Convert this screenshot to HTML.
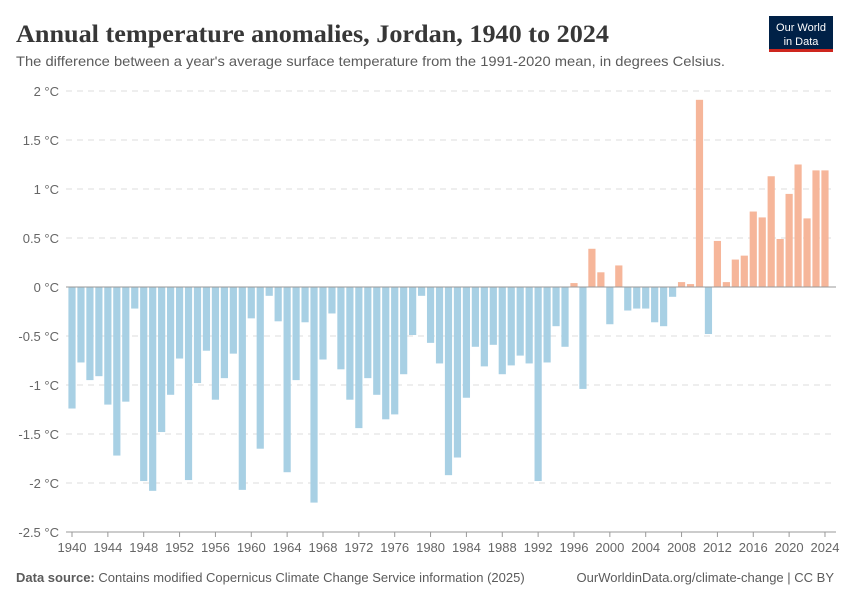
<!DOCTYPE html>
<html><head><meta charset="utf-8"><style>
body{margin:0;background:#fff;font-family:"Liberation Sans",sans-serif}
</style></head><body>
<svg width="850" height="600" xmlns="http://www.w3.org/2000/svg">
<text x="16" y="42" font-family="Liberation Serif,serif" font-size="25" font-weight="bold" fill="#373737" textLength="593" lengthAdjust="spacingAndGlyphs">Annual temperature anomalies, Jordan, 1940 to 2024</text>
<text x="16" y="66" font-size="14" fill="#5b5b5b" textLength="709" lengthAdjust="spacingAndGlyphs">The difference between a year's average surface temperature from the 1991-2020 mean, in degrees Celsius.</text>
<g><rect x="769" y="16" width="64" height="36" fill="#002147"/><rect x="769" y="49" width="64" height="3" fill="#ce261e"/>
<text x="801" y="31" font-size="11" fill="#fff" text-anchor="middle">Our World</text><text x="801" y="45" font-size="11" fill="#fff" text-anchor="middle">in Data</text></g>
<g id="grid"></g><g id="bars"></g><g id="xt"></g>
<text x="16" y="582" font-size="13" fill="#5b5b5b"><tspan font-weight="bold">Data source:</tspan> Contains modified Copernicus Climate Change Service information (2025)</text>
<text x="834" y="582" font-size="13" fill="#5b5b5b" text-anchor="end">OurWorldinData.org/climate-change | CC BY</text>
</svg>
<script>
const years=[];for(let y=1940;y<=2024;y++)years.push(y);
const values=[-1.24,-0.77,-0.95,-0.91,-1.2,-1.72,-1.17,-0.22,-1.98,-2.08,-1.48,-1.1,-0.73,-1.97,-0.98,-0.65,-1.15,-0.93,-0.68,-2.07,-0.32,-1.65,-0.09,-0.35,-1.89,-0.95,-0.36,-2.2,-0.74,-0.27,-0.84,-1.15,-1.44,-0.93,-1.1,-1.35,-1.3,-0.89,-0.49,-0.09,-0.57,-0.78,-1.92,-1.74,-1.13,-0.61,-0.81,-0.59,-0.89,-0.8,-0.7,-0.78,-1.98,-0.77,-0.4,-0.61,0.04,-1.04,0.39,0.15,-0.38,0.22,-0.24,-0.22,-0.22,-0.36,-0.4,-0.1,0.05,0.03,1.91,-0.48,0.47,0.05,0.28,0.32,0.77,0.71,1.13,0.49,0.95,1.25,0.7,1.19,1.19];
const yTicks=[2,1.5,1,0.5,0,-0.5,-1,-1.5,-2,-2.5];
const yTickLabels=["2 °C","1.5 °C","1 °C","0.5 °C","0 °C","-0.5 °C","-1 °C","-1.5 °C","-2 °C","-2.5 °C"];
const xTicks=[1940,1944,1948,1952,1956,1960,1964,1968,1972,1976,1980,1984,1988,1992,1996,2000,2004,2008,2012,2016,2020,2024];
const NS="http://www.w3.org/2000/svg";
const yS=v=>287-v*98;
const xS=y=>72+(y-1940)*8.964;
function mk(t,a,p){const e=document.createElementNS(NS,t);for(const k in a)e.setAttribute(k,a[k]);p.appendChild(e);return e;}
const g=document.getElementById('grid');
yTicks.forEach((v,i)=>{
 if(v!==0){const l=mk('line',{x1:66,x2:836,y1:yS(v),y2:yS(v),stroke:'#ddd','stroke-dasharray':'6,5'},g);
 
 }
 const t=mk('text',{x:59,y:yS(v)+5,'font-size':13,fill:'#666','text-anchor':'end'},g);t.textContent=yTickLabels[i];
 
 
});
const b=document.getElementById('bars');
years.forEach((y,i)=>{const v=values[i];const y0=yS(Math.max(v,0)),h=Math.abs(v)*98;
 const r=mk('rect',{x:xS(y)-3.6,y:y0,width:7.2,height:h,fill:v>=0?'#f6b69a':'#a8d0e4'},b);
 
 
});
const z=mk('line',{x1:66,x2:836,y1:287,y2:287,stroke:'#999'},b);


const xt=document.getElementById('xt');
const ax=mk('line',{x1:66,x2:836,y1:532,y2:532,stroke:'#999'},xt);


xTicks.forEach(y=>{const l=mk('line',{x1:xS(y),x2:xS(y),y1:532,y2:537,stroke:'#999'},xt);
 
 
 const t=mk('text',{x:xS(y),y:552,'font-size':13,fill:'#666','text-anchor':'middle'},xt);t.textContent=y;
 
 
});
</script>
</body></html>
